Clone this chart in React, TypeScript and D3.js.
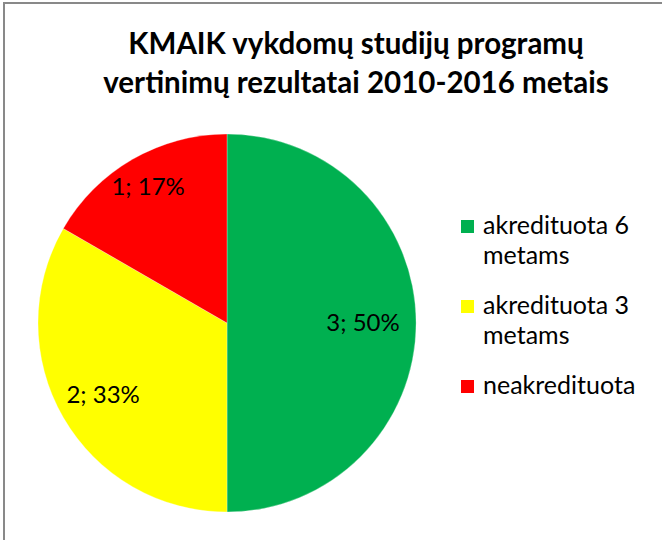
import React from "react";
import * as d3 from "d3";

const categories = ["akredituota 6 metams", "akredituota 3 metams", "neakredituota"];
const values = [3, 2, 1];
const colors = ["#00B050", "#FFFF00", "#FF0000"];
const titleLines = ["KMAIK vykdomų studijų programų", "vertinimų rezultatai 2010-2016 metais"];
const legendLines = [["akredituota 6", "metams"], ["akredituota 3", "metams"], ["neakredituota"]];

const W = 662, H = 540;
const cx = 227, cy = 323, R = 189;
const labelRadii = [0.72, 0.757, 0.835];
const font = "Lato, 'Open Sans', sans-serif";

export default function App() {
  const total = d3.sum(values);
  const pie = d3.pie<number>().sort(null).value((d) => d);
  const arcs = pie(values);
  const arc = d3.arc<d3.PieArcDatum<number>>().innerRadius(0).outerRadius(R);
  const fmt = d3.format(".0%");

  const legendTop = [220, 300, 380];

  return (
    <svg width={W} height={H} style={{ position: "absolute", left: 0, top: 0 }} fontFamily={font}>
      <rect x={0} y={0} width={W} height={H} fill="#fff" />
      <rect x={4} y={3} width={W + 20} height={H + 20} fill="none" stroke="#898989" strokeWidth={2} />
      {titleLines.map((t, i) => (
        <text key={i} x={356} y={54 + i * 39} textAnchor="middle" fontWeight="bold" fontSize={29.5} fill="#000">
          {t}
        </text>
      ))}
      <g transform={`translate(${cx},${cy})`}>
        {arcs.map((a, i) => (
          <path key={i} d={arc(a) || ""} fill={colors[i]} stroke="#fff" strokeWidth={0.3} />
        ))}
        {arcs.map((a, i) => {
          const mid = (a.startAngle + a.endAngle) / 2;
          const r = R * labelRadii[i];
          const x = Math.sin(mid) * r;
          const y = -Math.cos(mid) * r;
          return (
            <text key={"l" + i} x={x} y={y} dy="0.35em" textAnchor="middle" fontSize={24} fill="#000">
              {`${values[i]}; ${fmt(values[i] / total)}`}
            </text>
          );
        })}
      </g>
      {categories.map((c, i) => (
        <g key={c}>
          <rect x={461} y={legendTop[i]} width={13} height={13} fill={colors[i]} />
          {legendLines[i].map((ln, j) => (
            <text key={j} x={483} y={legendTop[i] + 14 + j * 30} fontSize={25} fill="#000">
              {ln}
            </text>
          ))}
        </g>
      ))}
    </svg>
  );
}
